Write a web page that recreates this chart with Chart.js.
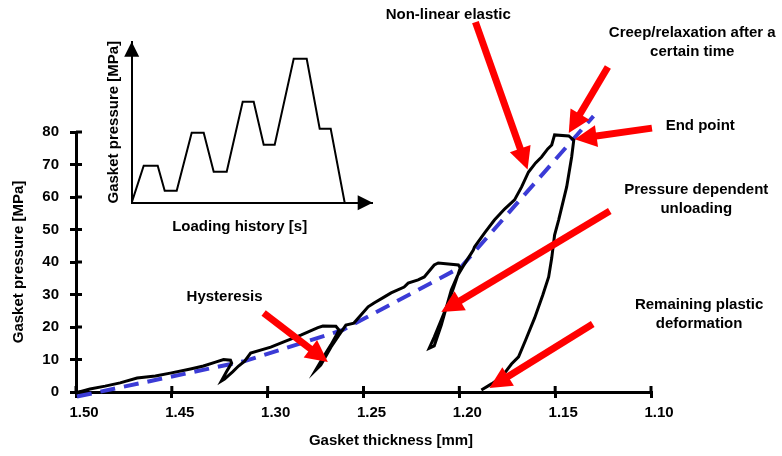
<!DOCTYPE html>
<html>
<head>
<meta charset="utf-8">
<title>Gasket pressure vs thickness</title>
<script src="https://cdn.jsdelivr.net/npm/chart.js@4.4.1/dist/chart.umd.min.js"></script>
<style>
    html, body { margin: 0; padding: 0; background: #fff; }
    #wrap { position: relative; width: 782px; height: 456px; overflow: hidden; }
    #main { position: absolute; left: 0; top: 0; }
    #inset { position: absolute; left: 90px; top: 30px; }
</style>
</head>
<body>
<div id="wrap">
    <canvas id="main" width="782" height="456"></canvas>
    <canvas id="inset" width="290" height="210"></canvas>
</div>
<script>
// Measured curve (thickness in mm, pressure in MPa)
const thickness = [
    1.3984, 1.3927, 1.3848, 1.3770, 1.3681, 1.3586, 1.3508, 1.3403, 1.3335, 1.3272, 1.3230, 1.3194,
    1.3188, 1.3215, 1.3241, 1.3225, 1.3183, 1.3152, 1.3120,
    1.3089, 1.2984, 1.2916, 1.2827, 1.2738, 1.2712, 1.2644, 1.2628,
    1.2639, 1.2670, 1.2712, 1.2749, 1.2723, 1.2670, 1.2628, 1.2592,
    1.2550, 1.2476, 1.2445, 1.2393, 1.2356, 1.2288, 1.2267, 1.2215, 1.2183, 1.2131, 1.2110, 1.2005, 1.1995,
    1.2016, 1.2052, 1.2094, 1.2131, 1.2157, 1.2131, 1.2094, 1.2042, 1.2010, 1.1979,
    1.1927, 1.1921, 1.1869, 1.1817, 1.1764, 1.1712, 1.1675, 1.1639, 1.1602, 1.1571, 1.1539, 1.1518, 1.1503, 1.1429, 1.1403,
    1.1414, 1.1440, 1.1482, 1.1503, 1.1518, 1.1534, 1.1565, 1.1607, 1.1654, 1.1691, 1.1728, 1.1780, 1.1832, 1.1885
];
const pressure = [
    0, 0.9, 1.8, 2.8, 4.3, 4.9, 5.8, 7.1, 8.0, 9.2, 10.0, 9.8,
    8.9, 6.2, 3.4, 4.0, 6.2, 8.0, 9.5,
    12.0, 13.8, 15.4, 17.5, 19.8, 20.3, 20.2, 19.1,
    17.8, 14.5, 10.5, 6.8, 8.3, 13.8, 17.5, 20.6,
    21.2, 26.2, 27.4, 29.2, 30.5, 32.3, 33.5, 34.5, 35.4, 39.1, 39.7, 39.1, 38.2,
    34.5, 28.3, 22.2, 16.9, 13.5, 14.2, 20.6, 31.4, 35.7, 38.8,
    43.7, 44.6, 48.9, 52.9, 56.3, 59.1, 63.1, 67.7, 70.5, 72.3, 74.8, 76.0, 79.1, 78.8, 77.5,
    72.3, 63.1, 52.9, 48.3, 41.2, 35.4, 29.8, 22.8, 16.0, 10.8, 8.6, 4.6, 2.5, 0.6
];

// Simplified model (blue dashed)
const modelThickness = [1.3995, 1.3120, 1.2607, 1.1990, 1.1300];
const modelPressure = [-1.4, 9.5, 19.1, 38.5, 84.9];

// Axis ticks
const xTickLabels = ['1.50', '1.45', '1.30', '1.25', '1.20', '1.15', '1.10'];
const xMin = 1.10, xMax = 1.40, xStep = 0.05;
const yMin = 0, yMax = 80, yStep = 10;

// Annotations (data units)
const noteLines = [
    ['Non-linear elastic'],
    ['Creep/relaxation after a', 'certain time'],
    ['End point'],
    ['Pressure dependent', 'unloading'],
    ['Remaining plastic', 'deformation'],
    ['Hysteresis']
];
const noteX = [1.2058, 1.0785, 1.0743, 1.0764, 1.0749, 1.3225];
const noteY = [116.0, 110.5, 81.8, 62.2, 26.8, 29.2];
const arrowFromX = [1.1916, 1.1225, 1.0995, 1.1215, 1.1304, 1.3021];
const arrowFromY = [113.8, 100.0, 81.2, 55.7, 20.9, 24.3];
const arrowToX = [1.1644, 1.1429, 1.1398, 1.2094, 1.1843, 1.2686];
const arrowToY = [68.5, 79.7, 77.8, 24.6, 1.2, 9.2];

// Inset: loading history
const historyTime = [0, 12, 26, 33, 45, 60, 72, 82, 95, 111, 122, 132, 143, 162, 175, 188, 199, 213];
const historyPressure = [0, 37, 37, 12, 12, 70, 70, 31, 31, 101, 101, 58, 58, 144, 144, 74, 74, 0];

const FONT = '"Liberation Sans", Arial, Helvetica, sans-serif';
const RED = '#ff0000';

const drawArrow = (ctx, x1, y1, x2, y2) => {
    const ang = Math.atan2(y2 - y1, x2 - x1);
    const head = 22, half = 11;
    const bx = x2 - head * Math.cos(ang);
    const by = y2 - head * Math.sin(ang);
    ctx.save();
    ctx.strokeStyle = RED;
    ctx.fillStyle = RED;
    ctx.lineWidth = 7;
    ctx.lineCap = 'butt';
    ctx.beginPath();
    ctx.moveTo(x1, y1);
    ctx.lineTo(bx + 2 * Math.cos(ang), by + 2 * Math.sin(ang));
    ctx.stroke();
    ctx.beginPath();
    ctx.moveTo(x2, y2);
    ctx.lineTo(bx + half * Math.sin(ang), by - half * Math.cos(ang));
    ctx.lineTo(bx - half * Math.sin(ang), by + half * Math.cos(ang));
    ctx.closePath();
    ctx.fill();
    ctx.restore();
};

// Ticks that cross the axis, notes, arrows and the x title
const mainDecor = {
    id: 'mainDecor',
    beforeDatasetsDraw(chart) {
        const { ctx, chartArea, scales } = chart;
        ctx.save();
        ctx.strokeStyle = '#000';
        ctx.lineWidth = 3;
        scales.x.ticks.forEach(t => {
            const px = scales.x.getPixelForValue(t.value);
            ctx.beginPath();
            ctx.moveTo(px, chartArea.bottom);
            ctx.lineTo(px, chartArea.bottom - 6);
            ctx.stroke();
        });
        scales.y.ticks.forEach(t => {
            const py = scales.y.getPixelForValue(t.value);
            ctx.beginPath();
            ctx.moveTo(chartArea.left, py);
            ctx.lineTo(chartArea.left + 6, py);
            ctx.stroke();
        });
        ctx.restore();
    },
    afterDatasetsDraw(chart) {
        const { ctx, scales } = chart;
        arrowFromX.forEach((_, i) => {
            drawArrow(ctx,
                scales.x.getPixelForValue(arrowFromX[i]), scales.y.getPixelForValue(arrowFromY[i]),
                scales.x.getPixelForValue(arrowToX[i]), scales.y.getPixelForValue(arrowToY[i]));
        });
        ctx.save();
        ctx.fillStyle = '#000';
        ctx.font = 'bold 15px ' + FONT;
        ctx.textAlign = 'center';
        ctx.textBaseline = 'middle';
        noteLines.forEach((lines, i) => {
            const px = scales.x.getPixelForValue(noteX[i]);
            const py = scales.y.getPixelForValue(noteY[i]);
            lines.forEach((line, j) => ctx.fillText(line, px, py + j * 19));
        });
        ctx.fillText('Gasket thickness [mm]', chart.width / 2, chart.height - 15);
        ctx.restore();
    }
};

const mainChart = new Chart(document.getElementById('main'), {
    type: 'scatter',
    data: {
        datasets: [
            {
                data: thickness.map((x, i) => ({ x, y: pressure[i] })),
                showLine: true,
                borderColor: '#000',
                borderWidth: 3,
                pointRadius: 0,
                tension: 0
            },
            {
                data: modelThickness.map((x, i) => ({ x, y: modelPressure[i] })),
                showLine: true,
                borderColor: '#3b3bd6',
                borderWidth: 4,
                borderDash: [15, 9],
                pointRadius: 0,
                clip: false
            }
        ]
    },
    options: {
        responsive: false,
        animation: false,
        layout: { padding: { left: 6, top: 132, right: 131, bottom: 0 } },
        plugins: { legend: { display: false }, tooltip: { enabled: false } },
        scales: {
            x: {
                type: 'linear',
                reverse: true,
                min: xMin,
                max: xMax,
                afterFit: s => { s.height = 64; },
                border: { display: true, color: '#000', width: 3 },
                grid: { drawOnChartArea: false, drawTicks: true, tickLength: 6, lineWidth: 3, color: '#000' },
                ticks: {
                    stepSize: xStep,
                    padding: 6,
                    labelOffset: 8,
                    maxRotation: 0,
                    color: '#000',
                    font: { family: FONT, size: 15, weight: 'bold' },
                    callback: v => xTickLabels[Math.round((xMax - v) / xStep)]
                }
            },
            y: {
                type: 'linear',
                min: yMin,
                max: yMax,
                afterFit: s => { s.width = 70; },
                border: { display: true, color: '#000', width: 3 },
                grid: { drawOnChartArea: false, drawTicks: true, tickLength: 6, lineWidth: 3, color: '#000' },
                ticks: {
                    stepSize: yStep,
                    padding: 11,
                    color: '#000',
                    font: { family: FONT, size: 15, weight: 'bold' }
                },
                title: {
                    display: true,
                    text: 'Gasket pressure [MPa]',
                    color: '#000',
                    padding: 4,
                    font: { family: FONT, size: 15, weight: 'bold' }
                }
            }
        }
    },
    plugins: [mainDecor]
});

// Inset arrows on axes and its x title
const insetDecor = {
    id: 'insetDecor',
    afterDraw(chart) {
        const { ctx, chartArea } = chart;
        ctx.save();
        ctx.fillStyle = '#000';
        ctx.beginPath();
        ctx.moveTo(chartArea.left, chartArea.top);
        ctx.lineTo(chartArea.left - 7.5, chartArea.top + 15);
        ctx.lineTo(chartArea.left + 7.5, chartArea.top + 15);
        ctx.closePath();
        ctx.fill();
        ctx.beginPath();
        ctx.moveTo(chartArea.right, chartArea.bottom);
        ctx.lineTo(chartArea.right - 15, chartArea.bottom - 7.5);
        ctx.lineTo(chartArea.right - 15, chartArea.bottom + 7.5);
        ctx.closePath();
        ctx.fill();
        ctx.font = 'bold 15px ' + FONT;
        ctx.textAlign = 'center';
        ctx.textBaseline = 'middle';
        ctx.fillText('Loading history [s]', chartArea.left + 108, chartArea.bottom + 24);
        ctx.restore();
    }
};

const insetChart = new Chart(document.getElementById('inset'), {
    type: 'scatter',
    data: {
        datasets: [{
            data: historyTime.map((x, i) => ({ x, y: historyPressure[i] })),
            showLine: true,
            borderColor: '#000',
            borderWidth: 2,
            pointRadius: 0,
            tension: 0
        }]
    },
    options: {
        responsive: false,
        animation: false,
        layout: { padding: { left: 11, top: 11.7, right: 7.3, bottom: 0 } },
        plugins: { legend: { display: false }, tooltip: { enabled: false } },
        scales: {
            x: {
                type: 'linear',
                min: 0,
                max: 241,
                afterFit: s => { s.height = 37.3; },
                border: { display: true, color: '#000', width: 2 },
                grid: { display: false },
                ticks: { display: false }
            },
            y: {
                type: 'linear',
                min: 0,
                max: 161,
                afterFit: s => { s.width = 30.7; },
                border: { display: true, color: '#000', width: 2 },
                grid: { display: false },
                ticks: { display: false },
                title: {
                    display: true,
                    text: 'Gasket pressure [MPa]',
                    color: '#000',
                    padding: 4,
                    font: { family: FONT, size: 15, weight: 'bold' }
                }
            }
        }
    },
    plugins: [insetDecor]
});
</script>
</body>
</html>
